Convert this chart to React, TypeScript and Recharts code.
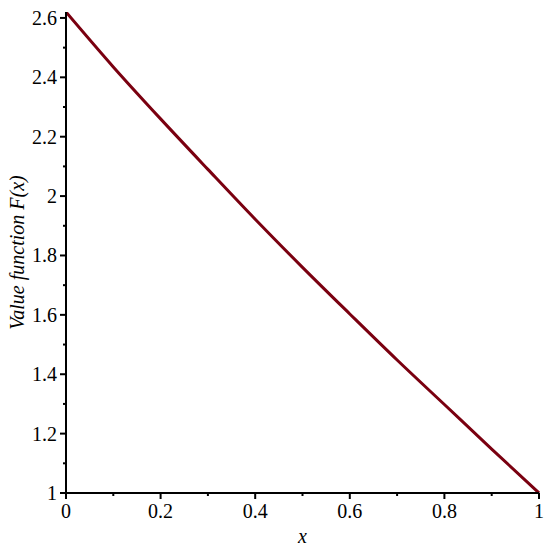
import React from 'react';
import { LineChart, Line, XAxis, YAxis } from 'recharts';

const xValues = [0, 0.1, 0.2, 0.3, 0.4, 0.5, 0.6, 0.7, 0.8, 0.9, 1];
const fValues = [2.62, 2.435, 2.26, 2.09, 1.922, 1.76, 1.603, 1.448, 1.298, 1.148, 1.0];

const xTicks = [0, 0.1, 0.2, 0.3, 0.4, 0.5, 0.6, 0.7, 0.8, 0.9, 1];
const xTickLabels = ['0', '', '0.2', '', '0.4', '', '0.6', '', '0.8', '', '1'];
const yTicks = [1, 1.1, 1.2, 1.3, 1.4, 1.5, 1.6, 1.7, 1.8, 1.9, 2, 2.1, 2.2, 2.3, 2.4, 2.5, 2.6];
const yTickLabels = ['1', '', '1.2', '', '1.4', '', '1.6', '', '1.8', '', '2', '', '2.2', '', '2.4', '', '2.6'];

const data = xValues.map((x, i) => ({ x, f: fValues[i] }));

const FONT = 'Liberation Serif, Tinos, Times New Roman, Times, DejaVu Serif, Noto Serif, FreeSerif, serif';

const XTick = (props: any) => {
  const { x, y, index } = props;
  const label = xTickLabels[index];
  const major = label !== '';
  return (
    <g>
      <line x1={x} x2={x} y1={y} y2={y + (major ? 6 : 3)} stroke="#000" strokeWidth={2} />
      {major && (
        <text x={x} y={y + 25} textAnchor="middle" fontFamily={FONT} fontSize={20} fill="#000">
          {label}
        </text>
      )}
    </g>
  );
};

const YTick = (props: any) => {
  const { x, y, index } = props;
  const label = yTickLabels[index];
  const major = label !== '';
  return (
    <g>
      <line x1={x} x2={x - (major ? 6 : 3)} y1={y} y2={y} stroke="#000" strokeWidth={2} />
      {major && (
        <text x={x - 9} y={y + 7} textAnchor="end" fontFamily={FONT} fontSize={20} fill="#000">
          {label}
        </text>
      )}
    </g>
  );
};

const YLabel = (props: any) => {
  const { viewBox } = props;
  const cy = viewBox.y + viewBox.height / 2;
  const cx = 17;
  return (
    <text
      x={cx}
      y={cy}
      transform={`rotate(-90 ${cx} ${cy})`}
      textAnchor="middle"
      dominantBaseline="central"
      fontFamily={FONT}
      fontSize={20}
      fontStyle="italic"
      fill="#000"
    >
      Value function F(x)
    </text>
  );
};

const XLabel = (props: any) => {
  const { viewBox } = props;
  const cx = viewBox.x + viewBox.width / 2;
  return (
    <text x={cx} y={543} textAnchor="middle" fontFamily={FONT} fontSize={20} fontStyle="italic" fill="#000">
      x
    </text>
  );
};

const App: React.FC = () => {
  return (
    <div style={{ position: 'absolute', left: 0, top: 0, width: 550, height: 553, background: '#fff' }}>
      <LineChart width={550} height={553} data={data} margin={{ top: 12, right: 11, left: 0, bottom: 0 }}>
        <XAxis
          dataKey="x"
          type="number"
          domain={[0, 1]}
          ticks={xTicks}
          interval={0}
          height={60}
          tickSize={0}
          tickMargin={0}
          tickLine={false}
          tick={<XTick />}
          axisLine={{ stroke: '#000', strokeWidth: 2 }}
          label={<XLabel />}
        />
        <YAxis
          type="number"
          domain={[1, 2.62]}
          ticks={yTicks}
          interval={0}
          width={66}
          tickSize={0}
          tickMargin={0}
          tickLine={false}
          tick={<YTick />}
          axisLine={{ stroke: '#000', strokeWidth: 2 }}
          label={<YLabel />}
          allowDataOverflow
        />
        <Line
          type="monotone"
          dataKey="f"
          stroke="#7a0010"
          strokeWidth={3}
          dot={false}
          isAnimationActive={false}
        />
      </LineChart>
    </div>
  );
};

export default App;
